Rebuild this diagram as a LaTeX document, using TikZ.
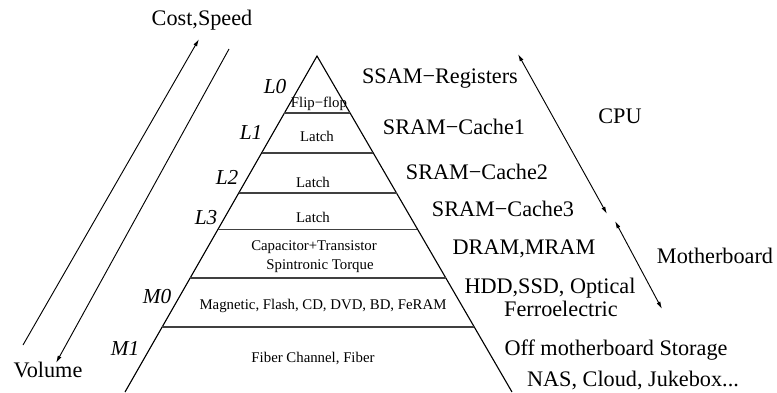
\documentclass[tikz,border=0pt]{standalone}
\usepackage{fontspec}
\setmainfont{Liberation Serif}
\usetikzlibrary{arrows.meta,calc}
\tikzstyle{lvl} = [font=\fontsize{11.5}{13}\selectfont\itshape, inner sep=0pt]
\tikzstyle{cell} = [font=\fontsize{8}{9.5}\selectfont, inner sep=0pt]
\tikzstyle{mem} = [font=\fontsize{12}{14}\selectfont, inner sep=0pt]
\tikzstyle{tier} = [draw, line width=0.55pt, black!75]
\tikzstyle{line} = [draw, line width=0.5pt, -{Latex[length=4pt,width=2.2pt]}]
\tikzstyle{both} = [draw, line width=0.5pt, {Latex[length=4pt,width=2.2pt]}-{Latex[length=4pt,width=2.2pt]}]

\begin{document}
\begin{tikzpicture}[x=0.54pt, y=-0.54pt]
      \useasboundingbox (0,0) rectangle (777,392);

      % pyramid outline
      \coordinate (top) at (317,56);
      \coordinate (bl) at (125,392);
      \coordinate (br) at (512,392);
      \draw [line width=0.6pt] (bl) -- (top) -- (br);

      % level boundaries
      \path [tier] ($(top)!0.1696!(bl)$) -- ($(top)!0.1696!(br)$);
      \path [tier] ($(top)!0.2887!(bl)$) -- ($(top)!0.2887!(br)$);
      \path [tier] ($(top)!0.4077!(bl)$) -- ($(top)!0.4077!(br)$);
      \path [tier] ($(top)!0.5149!(bl)$) -- ($(top)!0.5149!(br)$);
      \path [tier] ($(top)!0.6607!(bl)$) -- ($(top)!0.6607!(br)$);
      \path [tier] ($(top)!0.8065!(bl)$) -- ($(top)!0.8065!(br)$);

      % place nodes
      \node [lvl] (l0) at (275,87) {L0};
      \node [lvl] (l1) at (251,132) {L1};
      \node [lvl] (l2) at (227,177) {L2};
      \node [lvl] (l3) at (206,218) {L3};
      \node [lvl] (m0) at (157,297) {M0};
      \node [lvl] (m1) at (125,348) {M1};

      \node [cell] (ff) at (319,104) {Flip−flop};
      \node [cell] (latch1) at (317,136) {Latch};
      \node [cell] (latch2) at (313,182) {Latch};
      \node [cell] (latch3) at (313,217) {Latch};
      \node [cell] (cap) at (314,247) {Capacitor+Transistor};
      \node [cell] (spin) at (320,266) {Spintronic Torque};
      \node [cell] (mag) at (323,306) {Magnetic, Flash, CD, DVD, BD, FeRAM};
      \node [cell] (fiber) at (313,358) {Fiber Channel, Fiber};

      \node [mem] (reg) at (440,79) {SSAM−Registers};
      \node [mem] (c1) at (454,127) {SRAM−Cache1};
      \node [mem] (c2) at (477,172) {SRAM−Cache2};
      \node [mem] (c3) at (503,209) {SRAM−Cache3};
      \node [mem] (dram) at (524,249) {DRAM,MRAM};
      \node [mem] (hdd) at (550,288) {HDD,SSD, Optical};
      \node [mem] (fe) at (561,309) {Ferroelectric};
      \node [mem] (off) at (616,350) {Off motherboard Storage};
      \node [mem] (nas) at (633,380) {NAS, Cloud, Jukebox...};

      \node [mem] (cpu) at (620,116) {CPU};
      \node [mem] (mb) at (715,256) {Motherboard};
      \node [mem] (cost) at (202,20) {Cost,Speed};
      \node [mem] (vol) at (48,370) {Volume};

      % arrow ends
      \coordinate (cs0) at (23,345);
      \coordinate (cs1) at (199,39);
      \coordinate (vol0) at (229,49);
      \coordinate (vol1) at (56,363);
      \coordinate (cpu0) at (518,54);
      \coordinate (cpu1) at (607,214);
      \coordinate (mb0) at (615,221);
      \coordinate (mb1) at (662,309);

      % draw edges
      \path [line] (cs0) -- (cs1);
      \path [line] (vol0) -- (vol1);
      \path [both] (cpu0) -- (cpu1);
      \path [both] (mb0) -- (mb1);
\end{tikzpicture}
\end{document}
